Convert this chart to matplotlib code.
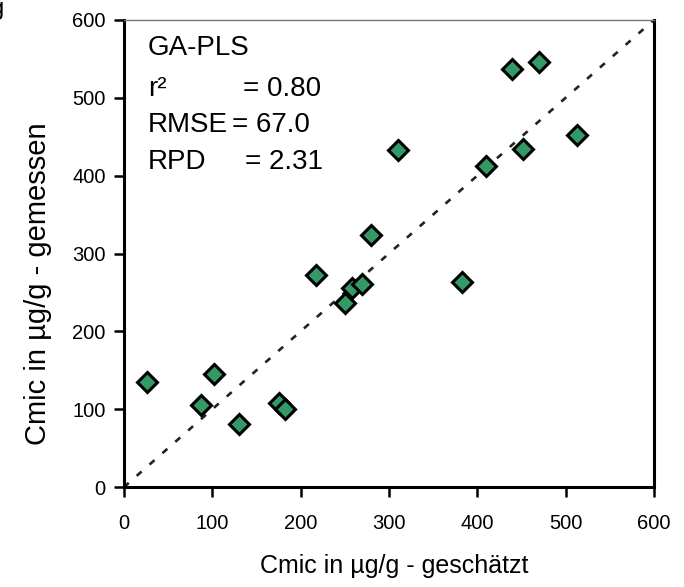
import matplotlib
matplotlib.use("Agg")
import matplotlib.pyplot as plt

plt.rcParams["font.family"] = ["Liberation Sans", "DejaVu Sans"]

# Cmic estimated (x) vs measured (y), µg/g
geschaetzt = [26, 87, 102, 130, 176, 183, 217, 250, 258, 270, 280, 310,
              383, 410, 439, 452, 470, 513]
gemessen = [135, 106, 145, 81, 108, 100, 273, 236, 256, 261, 324, 433,
            264, 413, 537, 434, 546, 452]

stat_names = ["r²", "RMSE", "RPD"]
stat_values = ["= 0.80", "= 67.0", "= 2.31"]
ticks = [0, 100, 200, 300, 400, 500, 600]

fig = plt.figure(figsize=(6.84, 5.87), dpi=100)
ax = fig.add_axes([0.181, 0.170, 0.775, 0.796])

# 1:1 line
ax.plot([0, 600], [0, 600], ls=(0, (2.5, 4)), color="#222222", lw=1.9, zorder=1)
ax.plot(geschaetzt, gemessen, ls="none", marker="D", ms=10,
        mfc="#339966", mec="black", mew=2.2, zorder=3)

ax.set_xlim(0, 600)
ax.set_ylim(0, 600)
ax.set_xticks(ticks)
ax.set_yticks(ticks)
ax.tick_params(direction="out", length=7, width=1.8, labelsize=14.5, pad=6)
ax.tick_params(axis="x", pad=12)

for side in ("left", "bottom", "right"):
    ax.spines[side].set_linewidth(2.2)
ax.spines["top"].set_linewidth(1.0)
ax.spines["top"].set_color("#777777")

ax.set_xlabel("Cmic in µg/g - geschätzt", fontsize=18)
ax.set_ylabel("Cmic in µg/g - gemessen", fontsize=21)
ax.xaxis.set_label_coords(0.511, -0.143)
ax.yaxis.set_label_coords(-0.135, 0.435)

# statistics block
ax.text(0.045, 0.941, "GA-PLS", transform=ax.transAxes, fontsize=20,
        va="center", ha="left")
value_x = [0.224, 0.205, 0.228]
for i, (name, val) in enumerate(zip(stat_names, stat_values)):
    y = 0.853 - i * 0.078
    ax.text(0.045, y, name, transform=ax.transAxes, fontsize=20,
            va="center", ha="left")
    ax.text(value_x[i], y, val, transform=ax.transAxes, fontsize=20,
            va="center", ha="left")

# panel label, cut off at the figure edge as in the source
fig.text(0.006, 0.985, "g", fontsize=17, va="center", ha="right")

fig.savefig("out.png", dpi=100)
